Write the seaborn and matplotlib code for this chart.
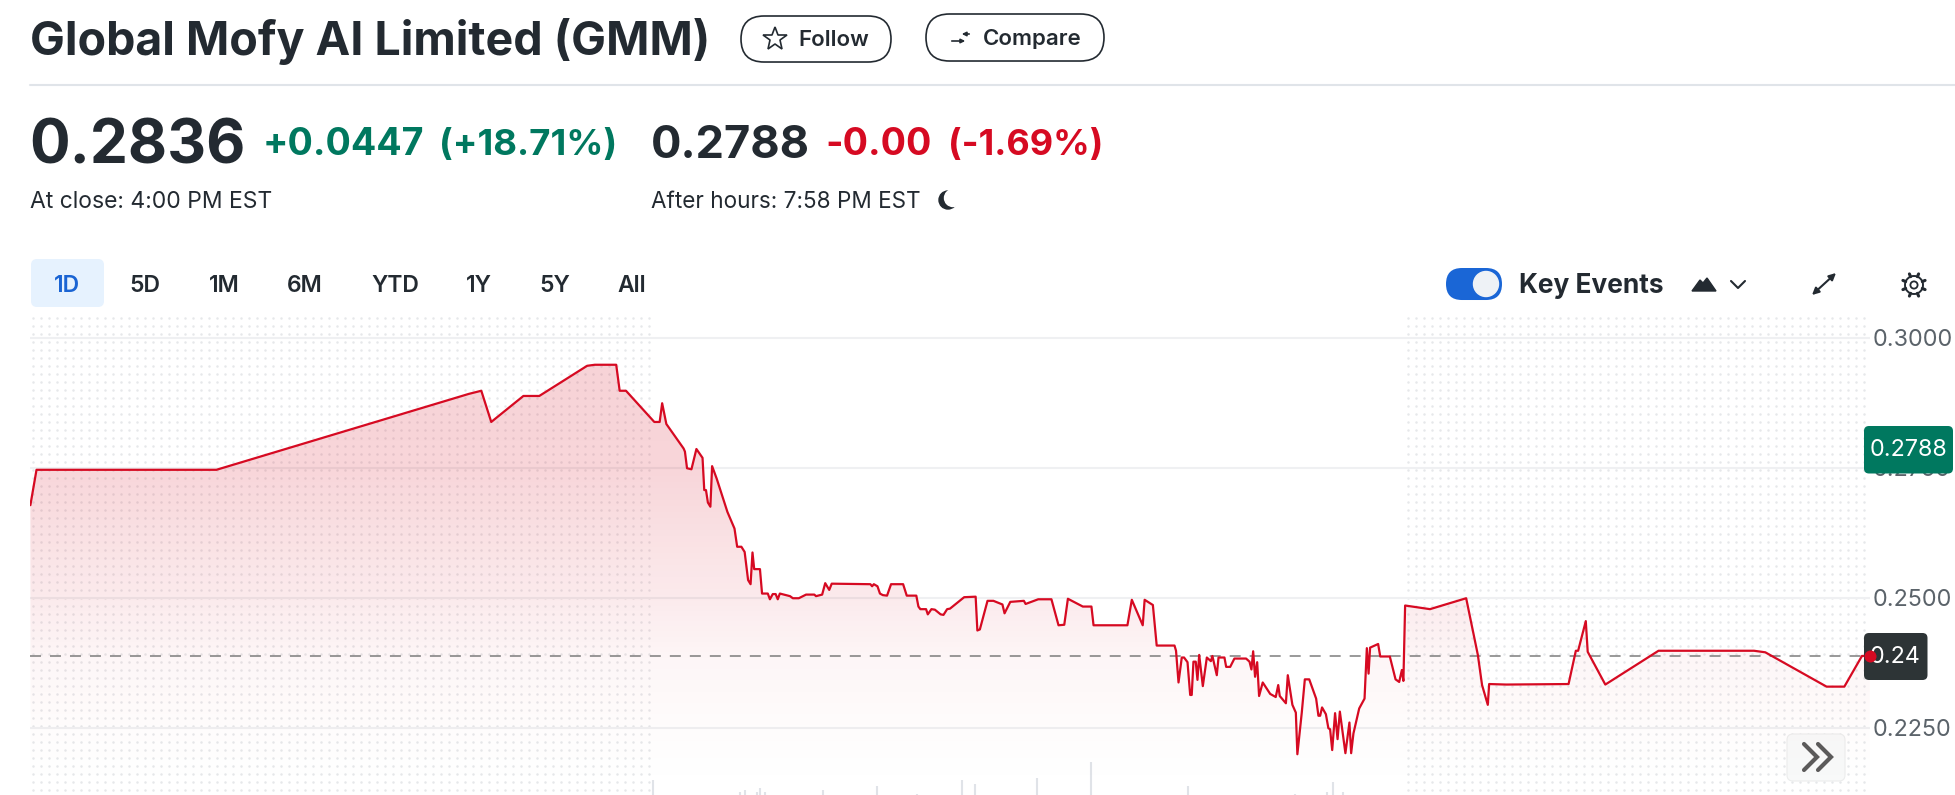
import numpy as np
import pandas as pd
import matplotlib.pyplot as plt
from matplotlib.patches import FancyBboxPatch, Circle, Polygon
import seaborn as sns

# intraday prices, minutes after 4:00 AM
minutes = [0.2, 3.4, 97.4, 229.3, 235.8, 241, 257.8, 266.1, 291.1, 295.1, 306.3, 308.1, 311.4,
           326.2, 329, 330.3, 332.5, 341.5, 342.2, 343.3, 345.6, 348.2, 351.4, 352.3, 353.2,
           354.2, 355.5, 356.4, 358.8, 364.4, 368.1, 369.5, 371.7, 373.4, 375.2, 376.5, 377.5,
           378.4, 381.4, 382.5, 385.5, 386.6, 388.1, 389.6, 390.7, 391.8, 397.1, 398.6, 401.7,
           405.5, 409.8, 410.7, 413.9, 415.5, 417.6, 418.9, 439.1, 440, 440.9, 442.8, 444.1,
           445.6, 447.8, 449.9, 456.2, 458.1, 463.1, 464.2, 465.2, 468.2, 469.1, 471, 472.8,
           475.8, 477.3, 479.2, 480.7, 488.1, 494.1, 495, 496.3, 500.3, 503.4, 508.1, 509.2,
           512.2, 519.3, 520.2, 526.8, 533.7, 537.4, 540.4, 542.3, 550.1, 554.6, 555.7, 573.4,
           575.7, 581.4, 582.4, 586.7, 588.7, 598, 598.8, 600.1, 601.8, 603, 604.8, 606.2,
           607, 607.9, 609.1, 610, 610.9, 612.8, 614.9, 617, 617.8, 620.1, 621, 624.1, 625,
           627.1, 629.3, 635.4, 637.2, 638.2, 639.1, 640.1, 641.2, 642.2, 644.1, 648, 650.9,
           652.2, 653, 656.2, 657.2, 659.6, 661.4, 662.2, 664.5, 666.1, 668.4, 672, 673.2,
           674.1, 675.1, 677.1, 678.4, 679.3, 680.4, 681.9, 683.2, 684.4, 687.3, 689.4, 690.3,
           691.5, 694.5, 697.3, 698.5, 699.4, 700.2, 704.4, 705.5, 710.5, 713.5, 715.4, 716.8,
           717.6, 718.5, 731.5, 750.4, 756.5, 758.7, 761.7, 762.4, 771.3, 803.9, 807.7, 808.9,
           812.9, 813.9, 823.1, 850.9, 900.8, 906.7, 938.7, 948, 957.2, 961.3]
prices = [0.2678, 0.2746, 0.2746, 0.2892, 0.2898, 0.2838, 0.2888, 0.2888, 0.2946, 0.2948, 0.2948, 0.2898, 0.2898,
          0.2838, 0.2838, 0.2874, 0.2834, 0.2787, 0.2781, 0.2749, 0.2747, 0.2786, 0.2769, 0.2707, 0.2707,
          0.2683, 0.2675, 0.2753, 0.2729, 0.2665, 0.2633, 0.2598, 0.2598, 0.2588, 0.2534, 0.2526, 0.2587,
          0.2555, 0.2555, 0.2508, 0.2508, 0.2497, 0.2507, 0.2507, 0.2497, 0.2508, 0.2503, 0.2499, 0.2499,
          0.2506, 0.2506, 0.2503, 0.2506, 0.2528, 0.2515, 0.2527, 0.2526, 0.2522, 0.2526, 0.2522, 0.2508,
          0.2505, 0.2504, 0.2526, 0.2526, 0.2504, 0.2504, 0.2483, 0.2478, 0.2478, 0.2468, 0.2478, 0.2477,
          0.2468, 0.2467, 0.2478, 0.2479, 0.2501, 0.2502, 0.2437, 0.2439, 0.2494, 0.2494, 0.2487, 0.2470,
          0.2492, 0.2494, 0.2488, 0.2497, 0.2497, 0.2447, 0.2448, 0.2498, 0.2483, 0.2483, 0.2447, 0.2447,
          0.2496, 0.2447, 0.2496, 0.2486, 0.2408, 0.2408, 0.2398, 0.2337, 0.2385, 0.2385, 0.2376, 0.2313,
          0.2313, 0.2377, 0.2377, 0.2342, 0.2390, 0.2330, 0.2385, 0.2378, 0.2388, 0.2351, 0.2385, 0.2385, 0.2367,
          0.2367, 0.2383, 0.2383, 0.2377, 0.2362, 0.2397, 0.2348, 0.2376, 0.2311, 0.2337, 0.2315, 0.2309,
          0.2332, 0.2311, 0.2297, 0.2351, 0.2294, 0.2279, 0.2199, 0.2279, 0.2343, 0.2343, 0.2306, 0.2273,
          0.2273, 0.2289, 0.2276, 0.2249, 0.2247, 0.2207, 0.2278, 0.2228, 0.2281, 0.2201, 0.2260, 0.2201,
          0.2239, 0.2287, 0.2306, 0.2403, 0.2354, 0.2404, 0.2411, 0.2387, 0.2387, 0.2343, 0.2338, 0.2361,
          0.2340, 0.2485, 0.2478, 0.2499, 0.2390, 0.2332, 0.2294, 0.2334, 0.2333, 0.2334, 0.2398, 0.2398,
          0.2455, 0.2396, 0.2333, 0.2398, 0.2398, 0.2395, 0.2329, 0.2329, 0.2388, 0.2388]
prev_close = 0.2387

# volume slivers along the bottom edge, thousands (estimated)
vol_minutes = [325.4, 371.2, 373.4, 380, 381.6, 384, 414.2, 442.4, 463.5, 487.2, 493.6, 526.2,
               554.4, 605.3, 661, 677.7, 680.8, 686]
vol_values = [15, 3, 5, 3, 7, 3, 5, 9, 1, 15, 11, 17, 33, 9, 1, 3, 13, 3]

y_ticks = [0.2250, 0.2500, 0.2750, 0.3000]
ranges = ['1D', '5D', '1M', '6M', 'YTD', '1Y', '5Y', 'All']

RED = '#d60a22'
GREEN = '#00785f'
INK = '#232a31'
W, H = 1955, 795

sns.set_theme(style='white', rc={'axes.axisbelow': True})
plt.rcParams['font.family'] = ['Inter', 'DejaVu Sans']

fig = plt.figure(figsize=(W / 100, H / 100), dpi=100, facecolor='white')


def px_axes(z):
    a = fig.add_axes([0, 0, 1, 1], zorder=z)
    a.set_xlim(0, W)
    a.set_ylim(H, 0)
    a.axis('off')
    return a


# layer under the chart, with the extended hours dots
back = px_axes(0)
for x0, x1 in [(33, 650), (1408, 1866)]:
    gx, gy = np.meshgrid(np.arange(x0, x1, 8), np.arange(317.5, H, 8))
    back.scatter(gx.ravel(), gy.ravel(), s=3.2, color='#e6e8ea', linewidths=0)

# layer for the page chrome
deco = px_axes(1)

ax = fig.add_axes([30 / W, 0, (1870 - 30) / W, (H - 315) / H], zorder=2)
ax.patch.set_visible(False)

df = pd.DataFrame({'minute': minutes, 'price': prices})
ax.set_xlim(0, 961.4)
ax.set_ylim(0.21206, 0.30437)

# volume on its own scale, one unit per pixel
vol = ax.twinx()
vol.set_ylim(0, 480)
vol.vlines(vol_minutes, 0, vol_values, color='#e0e3e8', lw=1.5)
vol.axis('off')
vol.set_zorder(-1)

ax.set_yticks(y_ticks)
ax.set_yticklabels([f'{v:.4f}' for v in y_ticks], fontsize=16.8, color='#5b636a')
ax.yaxis.tick_right()
ax.tick_params(axis='y', length=0, pad=2)
ax.set_xticks([])
ax.grid(axis='y', color='#eff0f2', lw=1.5)
sns.despine(ax=ax, left=True, bottom=True, right=True, top=True)

# area under the line, fading out towards the bottom
poly = ax.fill_between(df['minute'], df['price'], 0.21206, color='none')
stops_y = [0.2125, 0.2250, 0.2387, 0.2500, 0.2750, 0.2950]
stops_a = [0.0, 0.015, 0.04, 0.085, 0.17, 0.18]
ramp_y = np.linspace(0.2950, 0.21206, 256)
rgba = np.zeros((256, 1, 4))
rgba[..., :3] = (0.84, 0.04, 0.13)
rgba[:, 0, 3] = np.interp(ramp_y, stops_y, stops_a)
img = ax.imshow(rgba, extent=(0, 961.4, 0.21206, 0.2950), aspect='auto', zorder=1, interpolation='bilinear')
img.set_clip_path(poly.get_paths()[0], ax.transData)
ax.set_xlim(0, 961.4)
ax.set_ylim(0.21206, 0.30437)

ax.axhline(prev_close, color='#7a7a7a', lw=1.08, ls=(0, (7.33, 6)), zorder=1.5)
sns.lineplot(data=df, x='minute', y='price', color=RED, lw=1.6, ax=ax, zorder=3, estimator=None, sort=False)
ax.set_xlabel('')
ax.set_ylabel('')

# price tags sit over the tick labels
tag_kw = dict(boxstyle='round,pad=0,rounding_size=5', transform=deco.transData, clip_on=False, linewidth=0, zorder=4)
ax.add_patch(FancyBboxPatch((1864, 426), 89, 47.5, facecolor=GREEN, **tag_kw))
ax.add_patch(FancyBboxPatch((1864, 633), 63.5, 47, facecolor='#2d3436', **tag_kw))
ax.text(1908.5, 450, '0.2788', color='white', fontsize=16.8, ha='center', va='center',
        transform=deco.transData, zorder=5, clip_on=False)
ax.text(1895.5, 657, '0.24', color='white', fontsize=16.8, ha='center', va='center',
        transform=deco.transData, zorder=5, clip_on=False)
sns.scatterplot(x=minutes[-1:], y=prices[-1:], color=RED, s=75, linewidth=0, ax=ax, zorder=6, clip_on=False)


def label(x, y, s, size, color=INK, weight='normal', ha='left'):
    deco.text(x, y, s, fontsize=size, color=color, fontweight=weight, ha=ha, va='baseline')


def pill(x, y, w, h, **kw):
    r = h / 2
    deco.add_patch(FancyBboxPatch((x + r, y + r), w - 2 * r, 0.01, boxstyle=f'round,pad={r},rounding_size={r}', **kw))


# header
label(30, 55, 'Global Mofy AI Limited (GMM)', 33.5, weight='bold')
deco.plot([30, W], [85, 85], color='#e0e4e9', lw=1.5)
pill(741, 16, 150, 46, facecolor='white', edgecolor=INK, lw=1.2)
pill(926, 14, 178, 47, facecolor='white', edgecolor=INK, lw=1.2)
deco.plot(775, 38.5, marker='*', ms=18, mfc='white', mec=INK, mew=1.2)
label(798, 46, 'Follow', 16, weight='semibold')
label(983, 45, 'Compare', 16, weight='semibold')
deco.annotate('', xy=(968, 41), xytext=(949, 41), arrowprops=dict(arrowstyle='-|>', color=INK, lw=1.2, mutation_scale=6))
deco.annotate('', xy=(959, 34), xytext=(972, 34), arrowprops=dict(arrowstyle='-|>', color=INK, lw=1.2, mutation_scale=6))

# quote line
label(29, 163, '0.2836', 43.5, weight='bold')
label(263, 155, '+0.0447', 27, GREEN, 'bold')
label(439, 155, '(+18.71%)', 26.3, GREEN, 'bold')
label(651, 158, '0.2788', 32.5, weight='bold')
label(825, 155, '-0.00', 27, RED, 'bold')
label(948, 155, '(-1.69%)', 26, RED, 'bold')
label(30, 208, 'At close: 4:00 PM EST', 16.5)
label(651, 208, 'After hours: 7:58 PM EST', 16.2)
deco.add_patch(Circle((948, 200), 9, color=INK))
deco.add_patch(Circle((953, 198), 8.5, color='white'))

# range tabs
deco.add_patch(FancyBboxPatch((31, 259), 73, 48, boxstyle='round,pad=0,rounding_size=6', facecolor='#e6f2fe', linewidth=0))
for name, cx in zip(ranges, [67, 145, 224, 305, 395, 479, 555, 632]):
    deco.text(cx, 292, name, fontsize=16.5, ha='center', va='baseline', fontweight='semibold',
              color='#1a64d3' if name == '1D' else INK)

# key events controls
pill(1446, 268, 56, 32, facecolor='#1a66d6', edgecolor='none')
deco.add_patch(Circle((1486, 284), 12.5, color='#eef2f6', zorder=3))
label(1519, 293, 'Key Events', 18.9, weight='bold')
deco.add_patch(Polygon([(1692, 291), (1700, 280), (1703, 283), (1707, 278), (1716, 291)], color=INK))
deco.plot([1731, 1738, 1745], [281, 288, 281], color=INK, lw=1.5)
deco.annotate('', xy=(1836, 273), xytext=(1812, 295), arrowprops=dict(arrowstyle='<|-|>', color=INK, lw=1.5, mutation_scale=10, shrinkA=0, shrinkB=0))
deco.add_patch(Circle((1914, 285), 9, facecolor='none', edgecolor=INK, lw=1.4))
deco.add_patch(Circle((1914, 285), 3.6, facecolor='none', edgecolor=INK, lw=1.3))
for a in np.deg2rad(np.arange(0, 360, 45) + 22.5):
    deco.plot([1914 + 9 * np.cos(a), 1914 + 12 * np.cos(a)], [285 + 9 * np.sin(a), 285 + 12 * np.sin(a)], color=INK, lw=2.2)

# scroll button
deco.add_patch(FancyBboxPatch((1787, 734), 58, 47, boxstyle='round,pad=0,rounding_size=6', facecolor='#f8f9f9',
                              edgecolor='#eceded', lw=0.8, zorder=5))
for off in (0, 14):
    deco.plot([1804 + off, 1817 + off, 1804 + off], [744, 757, 770], color='#5b5b5b', lw=3, zorder=6, solid_joinstyle='miter')

fig.savefig('out.png', dpi=100)
